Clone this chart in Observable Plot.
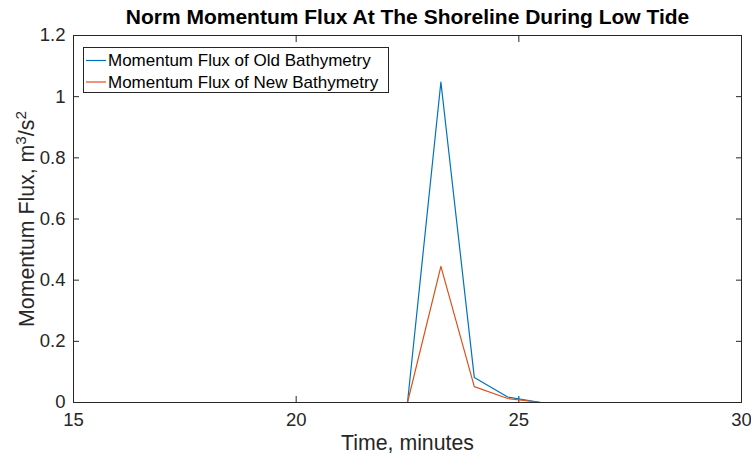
<!DOCTYPE html>
<html>
<head>
<meta charset="utf-8">
<script src="https://cdn.jsdelivr.net/npm/d3@7"></script>
<script src="https://cdn.jsdelivr.net/npm/@observablehq/plot@0.6"></script>
<style>
  html, body { margin: 0; padding: 0; background: #fff; }
  #chart svg { display: block; }
</style>
</head>
<body>
<div id="chart"></div>
<script>
// Sample times (minutes) and the normalised momentum flux at the shoreline
const time = [15, 15.75, 16.5, 17.25, 18, 18.75, 19.5, 20.25, 21, 21.75, 22.5,
              23.25, 24, 24.75, 25.5, 26.25, 27, 27.75, 28.5, 29.25, 30];
const fluxOld = [0, 0, 0, 0, 0, 0, 0, 0, 0, 0, 0,
                 1.048, 0.082, 0.018, 0, 0, 0, 0, 0, 0, 0];
const fluxNew = [0, 0, 0, 0, 0, 0, 0, 0, 0, 0, 0,
                 0.445, 0.052, 0.013, 0, 0, 0, 0, 0, 0, 0];
const seriesNames = ["Momentum Flux of Old Bathymetry", "Momentum Flux of New Bathymetry"];
const seriesColors = ["#0072BD", "#D95319"];
const xTicks = [15, 20, 25, 30];
const yTicks = [0, 0.2, 0.4, 0.6, 0.8, 1, 1.2];

const titleText = "Norm Momentum Flux At The Shoreline During Low Tide";
const xLabel = "Time, minutes";
const yLabel = "Momentum Flux, m3/s2";
// y label pieces; superscripts flagged
const yLabelParts = [["Momentum Flux, m", false], ["3", true], ["/s", false], ["2", true]];

const rows = [];
time.forEach((t, i) => {
  rows.push({time: t, flux: fluxOld[i], series: seriesNames[0]});
});
time.forEach((t, i) => {
  rows.push({time: t, flux: fluxNew[i], series: seriesNames[1]});
});

const ink = "#262626";
const fontFamily = "'Liberation Sans', Arial, Helvetica, sans-serif";

const chart = Plot.plot({
  width: 751,
  height: 458,
  marginLeft: 73,
  marginRight: 10,
  marginTop: 35,
  marginBottom: 56,
  style: {fontFamily, color: ink, background: "#fff", overflow: "visible"},
  x: {domain: [15, 30]},
  y: {domain: [0, 1.2]},
  color: {domain: seriesNames, range: seriesColors},
  marks: [
    // inward ticks on all four sides
    Plot.axisX(xTicks, {anchor: "bottom", tickSize: -6, tickFormat: () => "", stroke: ink, strokeWidth: 1, label: null}),
    Plot.axisX(xTicks, {anchor: "top", tickSize: -6, tickFormat: () => "", stroke: ink, strokeWidth: 1, label: null}),
    Plot.axisY(yTicks, {anchor: "left", tickSize: -6, tickFormat: () => "", stroke: ink, strokeWidth: 1, label: null}),
    Plot.axisY(yTicks, {anchor: "right", tickSize: -6, tickFormat: () => "", stroke: ink, strokeWidth: 1, label: null}),
    // tick labels
    Plot.axisX(xTicks, {anchor: "bottom", tickSize: 0, tickPadding: 10, fontSize: 18.5, fill: ink, label: null, tickFormat: d => String(d)}),
    Plot.axisY(yTicks, {anchor: "left", tickSize: 0, tickPadding: 8, fontSize: 18.5, fill: ink, label: null, tickFormat: d => String(d)}),
    Plot.line(rows, {x: "time", y: "flux", z: "series", stroke: "series", strokeWidth: 1.2}),
    Plot.frame({stroke: ink, strokeWidth: 1}),
    // title and axis labels
    Plot.text([titleText], {frameAnchor: "top", dy: -18, fontSize: 21, fontWeight: "bold", fill: "#000", lineAnchor: "middle", textAnchor: "middle"}),
    Plot.text([xLabel], {frameAnchor: "bottom", dy: 41, fontSize: 21.3, fill: ink, lineAnchor: "middle", textAnchor: "middle"}),
    Plot.text([yLabel], {frameAnchor: "left", dx: -46, rotate: -90, fontSize: 21.3, fill: ink, lineAnchor: "middle", textAnchor: "middle"})
  ]
});

const svg = d3.select(chart);

// Rebuild the y label with raised superscripts
svg.selectAll("text").filter(function() { return this.textContent === yLabel; })
  .each(function() {
    const t = d3.select(this);
    t.text(null);
    let raised = false;
    yLabelParts.forEach(([s, sup]) => {
      const span = t.append("tspan").text(s);
      if (sup && !raised) { span.attr("dy", "-0.55em").attr("font-size", "0.72em"); raised = true; }
      else if (!sup && raised) { span.attr("dy", "0.4em"); raised = false; }
      else if (sup) { span.attr("font-size", "0.72em"); }
    });
  });

// Legend box in the upper-left corner of the axes
const legend = svg.append("g")
  .attr("font-family", fontFamily)
  .attr("font-size", 17)
  .attr("text-anchor", "start");
legend.append("rect")
  .attr("x", 83.5).attr("y", 47.5).attr("width", 305).attr("height", 45)
  .attr("fill", "#fff").attr("stroke", ink).attr("stroke-width", 1);
seriesNames.forEach((name, i) => {
  const cy = 60.5 + i * 21.5;
  legend.append("line")
    .attr("x1", 86).attr("x2", 106).attr("y1", cy).attr("y2", cy)
    .attr("stroke", seriesColors[i]).attr("stroke-width", 1.2);
  legend.append("text")
    .attr("x", 108).attr("y", cy).attr("dy", "0.35em")
    .attr("text-anchor", "start")
    .attr("fill", "#000").text(name);
});

document.getElementById("chart").appendChild(chart);
</script>
</body>
</html>
